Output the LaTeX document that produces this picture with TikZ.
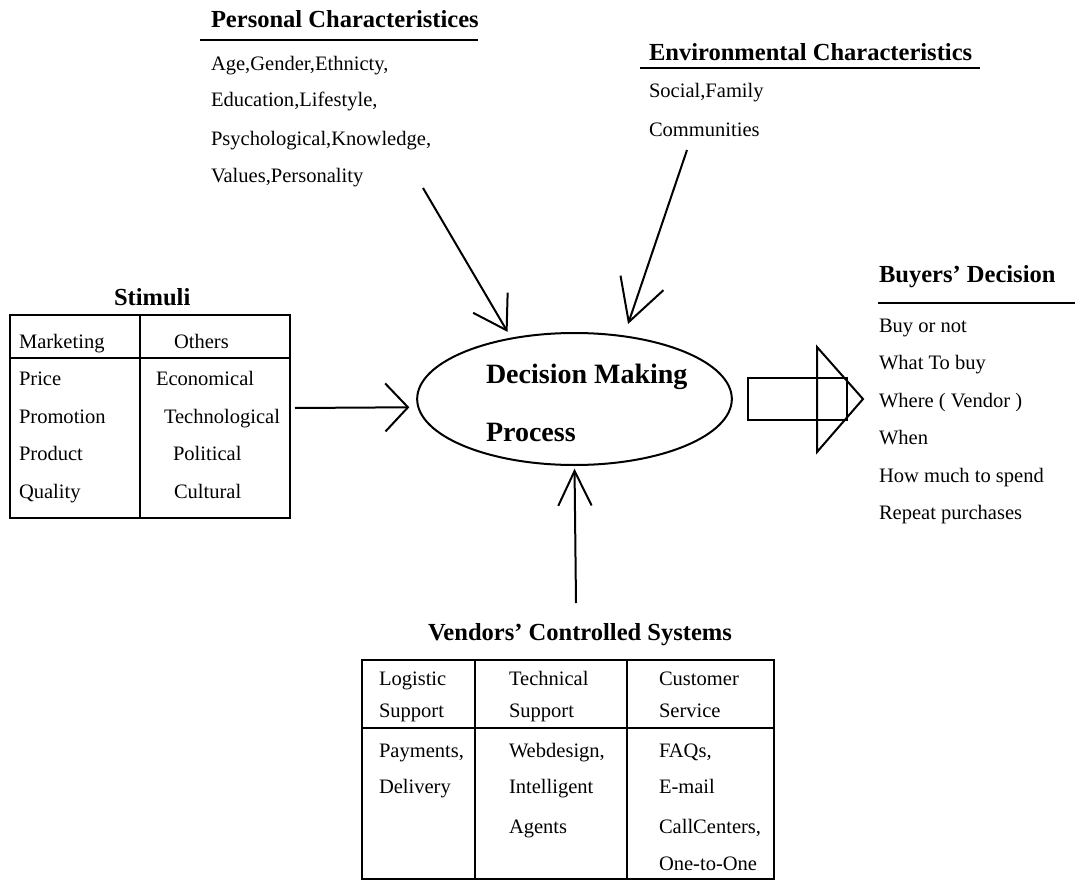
\documentclass[tikz,border=0pt]{standalone}
\usepackage{fontspec}
\setmainfont{Liberation Serif}
\usetikzlibrary{shapes.geometric,arrows.meta}

\tikzset{
  item/.style={anchor=base west, inner sep=0pt, font=\fontsize{15.4}{18}\selectfont},
  heading/.style={anchor=base west, inner sep=0pt, font=\bfseries\fontsize{18.4}{22}\selectfont},
  bigtext/.style={anchor=base west, inner sep=0pt, font=\bfseries\fontsize{21}{25}\selectfont},
}

\begin{document}
\begin{tikzpicture}[x=0.75pt, y=-0.75pt, line width=1.5pt]
    \useasboundingbox (0,0) rectangle (1075,881);

    % Draw the ellipse in the middle
    \node[draw, ellipse, minimum width=236pt, minimum height=99pt, inner sep=0pt] (dmp) at (574.5,399) {};
    \node[bigtext] (dmp1) at (485,383) {Decision Making};
    \node[bigtext] (dmp2) at (485,441) {Process};

    % Personal characteristics
    \node[heading] (pers) at (210,28) {Personal Characteristices};
    \draw (200,40) -- (478,40);
    \node[item] (pers1) at (210,70) {Age,Gender,Ethnicty,};
    \node[item] (pers2) at (210,107) {Education,Lifestyle,};
    \node[item] (pers3) at (210,145) {Psychological,Knowledge,};
    \node[item] (pers4) at (210,182) {Values,Personality};

    % Environmental characteristics
    \node[heading] (env) at (648,61) {Environmental Characteristics};
    \draw (640,68) -- (980,68);
    \node[item] (env1) at (648,98) {Social,Family};
    \node[item] (env2) at (648,137) {Communities};

    % Stimuli table
    \node[heading] (stim) at (113,305) {Stimuli};
    \draw (10,315) rectangle (290,518);
    \draw (140,315) -- (140,518);
    \draw (10,358) -- (290,358);
    \node[item] (mkt) at (18,348) {Marketing};
    \node[item] (oth) at (173,348) {Others};
    \node[item] (mkt1) at (18,385) {Price};
    \node[item] (mkt2) at (18,423) {Promotion};
    \node[item] (mkt3) at (18,460) {Product};
    \node[item] (mkt4) at (18,498) {Quality};
    \node[item] (oth1) at (155,385) {Economical};
    \node[item] (oth2) at (163,423) {Technological};
    \node[item] (oth3) at (172,460) {Political};
    \node[item] (oth4) at (173,498) {Cultural};

    % Buyers' decision
    \node[heading] (buy) at (878,282) {Buyers’ Decision};
    \draw (878,303) -- (1075,303);
    \node[item] (buy1) at (878,332) {Buy or not};
    \node[item] (buy2) at (878,369.5) {What To buy};
    \node[item] (buy3) at (878,407) {Where ( Vendor )};
    \node[item] (buy4) at (878,444.5) {When};
    \node[item] (buy5) at (878,482) {How much to spend};
    \node[item] (buy6) at (878,519.5) {Repeat purchases};

    % Big arrow to the buyers' decision
    \draw (748,378) rectangle (847,420);
    \draw (817,347) -- (863,399) -- (817,452) -- cycle;

    % Vendors' controlled systems table
    \node[heading] (vcs) at (427,640) {Vendors’ Controlled Systems};
    \draw (362,660) rectangle (774,879);
    \draw (475,660) -- (475,879);
    \draw (627,660) -- (627,879);
    \draw (362,728) -- (774,728);
    \node[item] (log1) at (378,685) {Logistic};
    \node[item] (log2) at (378,717) {Support};
    \node[item] (tec1) at (508,685) {Technical};
    \node[item] (tec2) at (508,717) {Support};
    \node[item] (cus1) at (658,685) {Customer};
    \node[item] (cus2) at (658,717) {Service};
    \node[item] (log3) at (378,757) {Payments,};
    \node[item] (log4) at (378,793) {Delivery};
    \node[item] (tec3) at (508,757) {Webdesign,};
    \node[item] (tec4) at (508,793) {Intelligent};
    \node[item] (tec5) at (508,833) {Agents};
    \node[item] (cus3) at (658,757) {FAQs,};
    \node[item] (cus4) at (658,793) {E-mail};
    \node[item] (cus5) at (658,833) {CallCenters,};
    \node[item] (cus6) at (658,870) {One-to-One};

    % Arrows into the decision making process
    \coordinate (pers-tail) at (423,188);
    \coordinate (env-tail) at (687,150);
    \coordinate (stim-tail) at (295,408);
    \coordinate (vcs-tail) at (576,603);
    \draw[-{Straight Barb[length=24pt,width=30pt]}, shorten >=5pt] (pers-tail) -- (dmp.136);
    \draw[-{Straight Barb[length=31pt,width=34pt]}, shorten >=9pt] (env-tail) -- (dmp.52);
    \draw[-{Straight Barb[length=17pt,width=36pt]}, shorten >=6pt] (stim-tail) -- (dmp.183);
    \draw[-{Straight Barb[length=26pt,width=25pt]}, shorten >=2pt] (vcs-tail) -- (dmp.south);

\end{tikzpicture}
\end{document}
